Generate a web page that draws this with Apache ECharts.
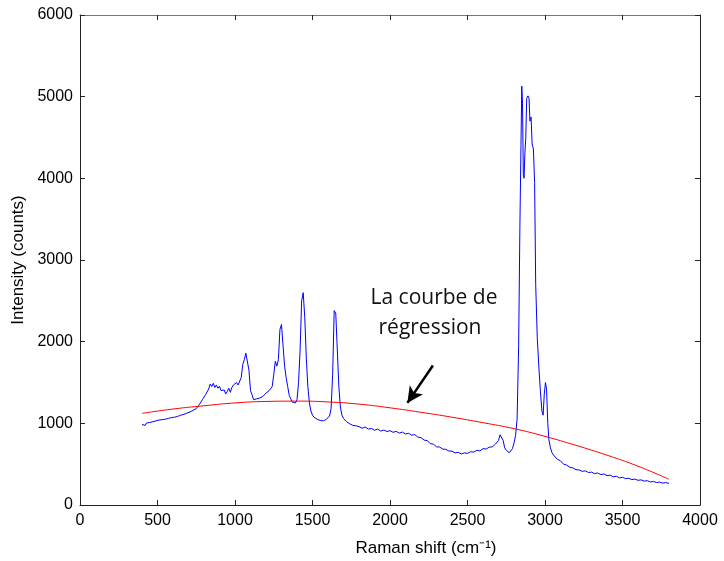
<!DOCTYPE html>
<html><head><meta charset="utf-8">
<script src="https://cdn.jsdelivr.net/npm/echarts@6/dist/echarts.min.js"></script>
<style>html,body{margin:0;padding:0;background:#fff}#c{width:724px;height:561px}</style>
</head><body><div id="c"></div>
<script>
const ramanShift = [400,410,420,430,440,450,460,470,480,490,500,510,520,530,540,550,560,570,580,590,600,610,620,630,640,650,660,670,680,690,700,710,720,730,740,750,760,770,780,790,800,810,820,830,840,850,860,870,880,890,900,910,920,930,940,950,960,970,980,990,1000,1010,1020,1030,1040,1050,1060,1070,1080,1090,1100,1110,1120,1130,1140,1150,1160,1170,1180,1190,1200,1210,1220,1230,1240,1250,1260,1270,1280,1290,1300,1310,1320,1330,1340,1350,1360,1370,1380,1390,1400,1410,1420,1430,1440,1450,1460,1470,1480,1490,1500,1510,1520,1530,1540,1550,1560,1570,1580,1590,1600,1610,1620,1630,1640,1650,1660,1670,1680,1690,1700,1710,1720,1730,1740,1750,1760,1770,1780,1790,1800,1820,1840,1860,1880,1900,1920,1940,1960,1980,2000,2020,2040,2060,2080,2100,2120,2140,2160,2180,2200,2220,2240,2260,2280,2300,2320,2340,2360,2380,2400,2420,2440,2460,2480,2500,2520,2540,2560,2580,2600,2620,2640,2660,2680,2700,2710,2720,2730,2740,2750,2760,2770,2780,2790,2800,2810,2820,2830,2838,2845,2850,2855,2860,2865,2870,2876,2882,2890,2897,2903,2910,2917,2925,2933,2940,2950,2960,2970,2980,2988,2995,3003,3010,3018,3025,3035,3045,3060,3080,3100,3120,3140,3160,3180,3200,3220,3240,3260,3280,3300,3320,3340,3360,3380,3400,3420,3440,3460,3480,3500,3520,3540,3560,3580,3600,3620,3640,3660,3680,3700,3720,3740,3760,3780,3800];
const intensity = [985,1000,975,1005,990,1010,995,1020,1005,1030,1015,1040,1025,1045,1030,1050,1040,1060,1045,1070,1060,1075,1065,1085,1080,1100,1090,1110,1105,1125,1120,1140,1135,1160,1150,1180,1190,1230,1215,1290,1300,1350,1340,1420,1480,1450,1490,1440,1470,1430,1455,1400,1380,1410,1360,1390,1430,1380,1440,1470,1460,1500,1470,1480,1560,1720,1780,1860,1840,1650,1400,1350,1290,1275,1300,1280,1310,1295,1330,1340,1370,1380,1400,1420,1450,1600,1760,1700,1780,2150,2210,1950,1700,1560,1450,1340,1300,1260,1240,1250,1290,1500,1900,2500,2600,2300,1800,1450,1250,1150,1100,1075,1055,1050,1040,1035,1045,1030,1040,1050,1060,1090,1180,1600,2380,2350,1900,1450,1200,1100,1060,1040,1020,1010,995,990,975,965,970,955,960,940,955,930,938,915,930,905,918,900,910,890,902,880,893,870,878,855,862,830,825,795,788,752,745,712,710,685,682,660,660,638,645,625,638,632,652,648,670,662,690,685,708,712,745,790,860,880,790,700,670,650,640,660,690,760,850,1050,1950,3400,4400,5130,4920,4050,4000,4300,4500,4980,5010,4980,4700,4750,4420,4360,3950,2700,2050,1700,1400,1150,1100,1350,1500,1420,1000,800,700,640,600,560,540,500,488,462,455,432,430,412,418,398,402,385,392,372,380,360,365,345,352,332,340,322,328,310,318,302,308,292,298,282,288,275,280,268,274,265];
const regX = [400,600,800,1000,1200,1400,1600,1800,2000,2200,2400,2600,2800,3000,3200,3400,3600,3800];
const regY = [1122,1175,1215,1250,1268,1272,1262,1235,1190,1135,1075,1008,935,840,730,610,475,315];
const xTicks = [0,500,1000,1500,2000,2500,3000,3500,4000];
const yTicks = [0,1000,2000,3000,4000,5000,6000];
const arrowFrom = [2277,1708];
const arrowTo = [2112,1250];

const chart = echarts.init(document.getElementById('c'));
const spec = ramanShift.map((x,i)=>[x,intensity[i]]);
const reg = regX.map((x,i)=>[x,regY[i]]);
const fam = "'Liberation Sans', Arial, sans-serif";
function mkAxis(extra, lineColor){
  return Object.assign({
    type:'value',
    axisLine:{show:true,onZero:false,lineStyle:{color:lineColor||'#222',width:1}},
    axisTick:{show:true,inside:true,length:5,lineStyle:{color:'#222'}},
    splitLine:{show:false}
  }, extra);
}
chart.setOption({
  animation:false,
  backgroundColor:'#fff',
  grid:{left:80,right:24,top:15,bottom:56,containLabel:false,outerBoundsMode:'none'},
  xAxis:[
    mkAxis({min:xTicks[0],max:xTicks[xTicks.length-1],interval:500,position:'bottom',
      axisLabel:{color:'#000',fontSize:16,fontFamily:fam,margin:8,formatter:v=>String(v)}}),
    mkAxis({min:xTicks[0],max:xTicks[xTicks.length-1],interval:500,position:'top',
      axisLabel:{show:false}}, '#777')
  ],
  yAxis:[
    mkAxis({min:yTicks[0],max:yTicks[yTicks.length-1],interval:1000,position:'left',
      name:'Intensity (counts)',nameLocation:'middle',nameGap:52,
      nameTextStyle:{color:'#000',fontSize:17,fontFamily:fam},
      axisLabel:{color:'#000',fontSize:16,fontFamily:fam,margin:7,formatter:v=>String(v)}}),
    mkAxis({min:yTicks[0],max:yTicks[yTicks.length-1],interval:1000,position:'right',
      axisLabel:{show:false}})
  ],
  graphic:[
    {type:'text',x:426,y:548,style:{text:'Raman shift (cm\u207B\u00B9)',fill:'#000',font:'17px '+fam,textAlign:'center',textVerticalAlign:'middle'}},
    {type:'text',x:434,y:298,style:{text:'La courbe de',fill:'#111',font:"21px 'Open Sans', sans-serif",textAlign:'center',textVerticalAlign:'middle'}},
    {type:'text',x:430,y:328,style:{text:'régression',fill:'#111',font:"21px 'Open Sans', sans-serif",textAlign:'center',textVerticalAlign:'middle'}}
  ],
  series:[
    {type:'line',data:spec,showSymbol:false,symbol:'none',lineStyle:{color:'#0000ff',width:1},itemStyle:{color:'#0000ff'},z:3},
    {type:'line',data:reg,smooth:true,showSymbol:false,symbol:'none',lineStyle:{color:'#ff0000',width:1},itemStyle:{color:'#ff0000'},z:4,
      markLine:{silent:true,symbol:['none','arrow'],symbolSize:[12,16],label:{show:false},
        lineStyle:{color:'#000',width:2.5,type:'solid'},
        data:[[{coord:arrowFrom},{coord:arrowTo}]]}}
  ]
});
</script></body></html>
